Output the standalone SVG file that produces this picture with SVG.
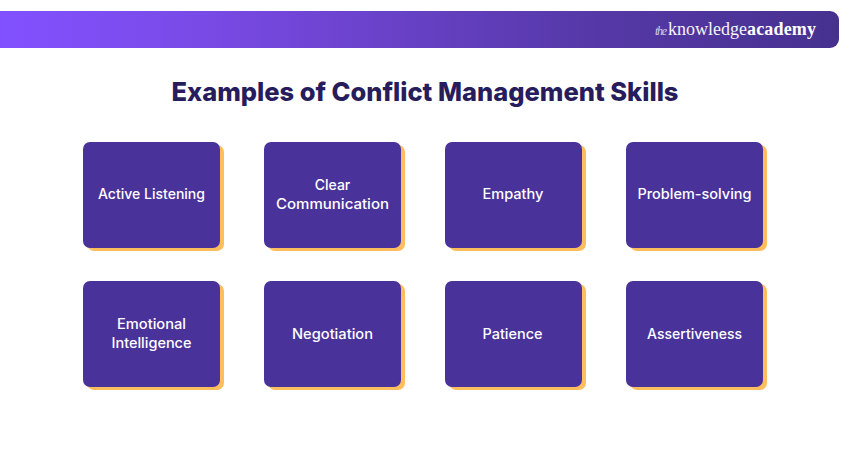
<svg xmlns="http://www.w3.org/2000/svg" width="850" height="450" viewBox="0 0 850 450">
<style>
.s{fill:#ffbe5e}
.c{fill:#49329a}
.t{font-family:"Inter","Noto Sans",sans-serif;font-size:14px;font-weight:500;fill:#fff;text-anchor:middle}
.h{font-family:"Inter","Noto Sans",sans-serif;font-size:26px;font-weight:800;fill:#271c5c;text-anchor:middle}
.l{font-family:"Liberation Serif",serif;fill:#fff}
</style>
<defs>
<linearGradient id="g" gradientUnits="userSpaceOnUse" x1="0" y1="0" x2="839" y2="0"><stop offset="0" stop-color="#8251ff"/><stop offset="0.24" stop-color="#7a4ae6"/><stop offset="0.715" stop-color="#5538a6"/><stop offset="1" stop-color="#46318f"/></linearGradient>
<g id="card"><rect class="s" x="4" y="3" width="137" height="106" rx="7"/><rect class="c" width="137" height="106" rx="7"/></g>
</defs>
<g id="banner"><path d="M0 11H830a9 9 0 0 1 9 9V39a9 9 0 0 1-9 9H0Z" fill="url(#g)"/>
<text class="l" x="655" y="35" font-size="12" font-style="italic" opacity="0.75" textLength="12">the</text>
<text class="l" x="668" y="35" font-size="18" opacity="0.95" textLength="79">knowledge</text>
<text class="l" x="747" y="35" font-size="18" font-weight="700" textLength="69">academy</text></g>
<text id="title" class="h" x="425" y="101" textLength="507" lengthAdjust="spacingAndGlyphs">Examples of Conflict Management Skills</text>
<g id="n1" transform="translate(83 142)"><use href="#card"/><text class="t" x="68.5" y="57" textLength="107" lengthAdjust="spacingAndGlyphs">Active Listening</text></g>
<g id="n2" transform="translate(264 142)"><use href="#card"/><text class="t" x="68.5" y="48">Clear</text><text class="t" x="68.5" y="67" textLength="113" lengthAdjust="spacingAndGlyphs">Communication</text></g>
<g id="n3" transform="translate(445 142)"><use href="#card"/><text class="t" x="68" y="57" textLength="61" lengthAdjust="spacingAndGlyphs">Empathy</text></g>
<g id="n4" transform="translate(626 142)"><use href="#card"/><text class="t" x="68.5" y="57" textLength="114" lengthAdjust="spacingAndGlyphs">Problem-solving</text></g>
<g id="n5" transform="translate(83 281)"><use href="#card"/><text class="t" x="68.5" y="48" textLength="69" lengthAdjust="spacingAndGlyphs">Emotional</text><text class="t" x="68.5" y="67" textLength="80" lengthAdjust="spacingAndGlyphs">Intelligence</text></g>
<g id="n6" transform="translate(264 281)"><use href="#card"/><text class="t" x="68.5" y="58" textLength="81" lengthAdjust="spacingAndGlyphs">Negotiation</text></g>
<g id="n7" transform="translate(445 281)"><use href="#card"/><text class="t" x="67.5" y="58" textLength="60" lengthAdjust="spacingAndGlyphs">Patience</text></g>
<g id="n8" transform="translate(626 281)"><use href="#card"/><text class="t" x="68.5" y="58" textLength="95" lengthAdjust="spacingAndGlyphs">Assertiveness</text></g>
<g id="connectors"/>
</svg>
